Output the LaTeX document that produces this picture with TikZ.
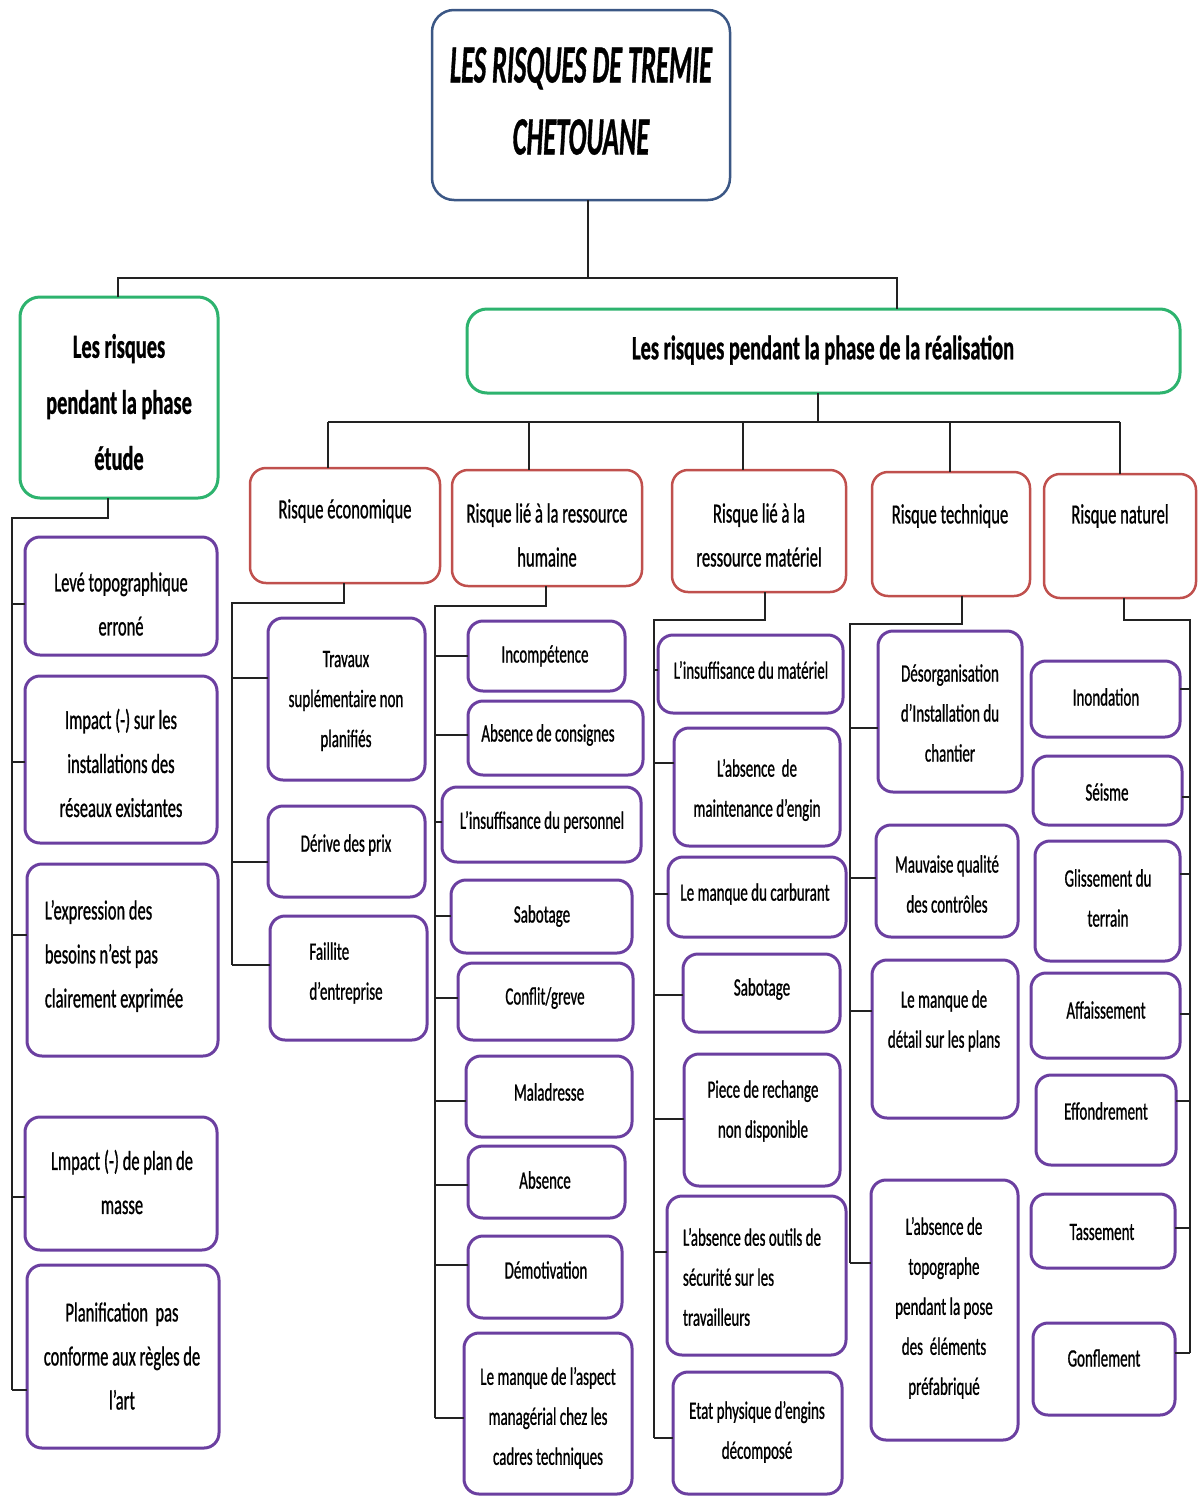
\documentclass[tikz,border=0pt]{standalone}
\usepackage{fontspec}
\setmainfont{Carlito}[FakeStretch=0.6,FakeBold=0.8]
\newfontfamily\titlef{Carlito}[FakeStretch=0.49,FakeBold=0.6]
\definecolor{cTitle}{HTML}{3B5785}
\definecolor{cGreen}{HTML}{2DB36E}
\definecolor{cRed}{HTML}{C0504D}
\definecolor{cPurp}{HTML}{6B3FA0}
\definecolor{cLine}{HTML}{222222}
\newcommand\fs[2]{\fontsize{#1}{#2}\selectfont}
\newcommand\bx[6]{\node[#2, minimum width={(#5)-(#3)}, minimum height={(#6)-(#4)}] (#1) at ({((#3)+(#5))/2},{((#4)+(#6))/2}) {};}
\newcommand\tx[5]{\node[lbl, #4] (#1) at (#2,#3) {#5};}
\newcommand\tk[3]{\draw[conn] (#1.west |- 0,#2) -- (#3 |- 0,#2);}
\newcommand\tke[3]{\draw[conn] (#1.east |- 0,#2) -- (#3 |- 0,#2);}
\tikzset{
 base/.style={draw, fill=white, inner sep=0pt, outer sep=0pt, line width=2.5pt},
 titlebox/.style={base, draw=cTitle, rounded corners=22pt},
 greenbox/.style={base, draw=cGreen, rounded corners=20pt, line width=3pt},
 redbox/.style={base, draw=cRed, rounded corners=16pt},
 purpbox/.style={base, draw=cPurp, rounded corners=15pt, line width=3pt},
 lbl/.style={align=center, inner sep=0pt, text=black},
 conn/.style={draw=cLine, line width=2pt},
 ftitle/.style={font=\titlef\bfseries\itshape\fs{54}{72}},
 fgreen/.style={font=\bfseries\fs{34}{56}},
 fred/.style={font=\fs{27.7}{44}},
 fstudy/.style={font=\fs{27.5}{44}},
 fch/.style={font=\fs{25}{40}},
}
\begin{document}
\begin{tikzpicture}[x=1pt,y=-1pt]
\fill[white] (0,0) rectangle (1198,1497);
\useasboundingbox (0,0) rectangle (1198,1497);

% ---- level 0/1
\bx{title}{titlebox}{432}{10}{730}{200}
\tx{ttitle}{581}{101}{ftitle}{LES RISQUES DE TREMIE\\CHETOUANE}
\bx{study}{greenbox}{20}{297}{218}{498}
\tx{tstudy}{119}{402}{fgreen}{Les risques\\pendant la phase\\étude}
\bx{real}{greenbox}{467}{309}{1180}{393}
\tx{treal}{823}{350}{fgreen}{Les risques pendant la phase de la réalisation}

% ---- red boxes
\bx{eco}{redbox}{250}{468}{440}{583}
\tx{teco}{345}{511}{fred}{Risque économique}
\bx{hum}{redbox}{452}{470}{642}{586}
\tx{thum}{547}{535}{fred}{Risque lié à la ressource\\humaine}
\bx{mat}{redbox}{672}{470}{846}{592}
\tx{tmat}{759}{535}{fred}{Risque lié à la\\ressource matériel}
\bx{tec}{redbox}{872}{472}{1030}{596}
\tx{ttec}{950}{516}{fred}{Risque technique}
\bx{nat}{redbox}{1044}{474}{1196}{598}
\tx{tnat}{1120}{516}{fred}{Risque naturel}

% ---- study children
\bx{bs1}{purpbox}{25}{537}{217}{655}
\tx{ts1}{121}{604}{fstudy}{Levé topographique\\erroné}
\bx{bs2}{purpbox}{25}{676}{217}{843}
\tx{ts2}{121}{763}{fstudy}{Impact (-) sur les\\installations des\\réseaux existantes}
\bx{bs3}{purpbox}{27}{864}{218}{1056}
\tx{ts3}{114}{956}{fstudy,align=left}{L’expression des\\besoins n’est pas\\clairement exprimée}
\bx{bs4}{purpbox}{25}{1117}{217}{1250}
\tx{ts4}{122}{1182}{fstudy}{Lmpact (-) de plan de\\masse}
\bx{bs5}{purpbox}{27}{1265}{219}{1448}
\tx{ts5}{122}{1356}{fstudy}{Planification\ \ pas\\conforme aux règles de\\l’art}

% ---- economique children
\bx{be1}{purpbox}{268}{618}{425}{780}
\tx{te1}{346}{701}{fch}{Travaux\\suplémentaire non\\planifiés}
\bx{be2}{purpbox}{268}{806}{425}{897}
\tx{te2}{346}{845}{fch}{Dérive des prix}
\bx{be3}{purpbox}{270}{916}{427}{1040}
\tx{te3}{346}{973}{fch,align=left}{Faillite\\d’entreprise}

% ---- humaine children
\bx{bh1}{purpbox}{468}{621}{625}{691}
\tx{th1}{545}{656}{fch}{Incompétence}
\bx{bh2}{purpbox}{468}{701}{643}{775}
\tx{th2}{548}{735}{fch}{Absence de consignes}
\bx{bh3}{purpbox}{442}{787}{641}{862}
\tx{th3}{542}{822}{fch}{L’insuffisance du personnel}
\bx{bh4}{purpbox}{451}{880}{632}{953}
\tx{th4}{542}{916}{fch}{Sabotage}
\bx{bh5}{purpbox}{458}{963}{633}{1040}
\tx{th5}{545}{998}{fch}{Conflit/greve}
\bx{bh6}{purpbox}{466}{1056}{632}{1137}
\tx{th6}{549}{1092}{fch}{Maladresse}
\bx{bh7}{purpbox}{468}{1146}{625}{1218}
\tx{th7}{545}{1180}{fch}{Absence}
\bx{bh8}{purpbox}{468}{1236}{622}{1318}
\tx{th8}{546}{1270}{fch}{Démotivation}
\bx{bh9}{purpbox}{464}{1333}{632}{1494}
\tx{th9}{548}{1418}{fch}{Le manque de l’aspect\\managérial chez les\\cadres techniques}

% ---- materiel children
\bx{bm1}{purpbox}{658}{635}{843}{713}
\tx{tm1}{751}{670}{fch}{L’insuffisance du matériel}
\bx{bm2}{purpbox}{674}{728}{840}{846}
\tx{tm2}{757}{790}{fch}{L’absence\ \ de\\maintenance d’engin}
\bx{bm3}{purpbox}{668}{857}{846}{937}
\tx{tm3}{755}{894}{fch}{Le manque du carburant}
\bx{bm4}{purpbox}{683}{954}{840}{1032}
\tx{tm4}{762}{989}{fch}{Sabotage}
\bx{bm5}{purpbox}{684}{1054}{840}{1186}
\tx{tm5}{763}{1111}{fch}{Piece de rechange\\non disponible}
\bx{bm6}{purpbox}{667}{1196}{846}{1355}
\tx{tm6}{752}{1277}{fch,align=left}{L’absence des outils de\\sécurité sur les\\travailleurs}
\bx{bm7}{purpbox}{673}{1372}{842}{1494}
\tx{tm7}{757}{1432}{fch}{Etat physique d’engins\\décomposé}

% ---- technique children
\bx{bt1}{purpbox}{878}{631}{1022}{792}
\tx{tt1}{950}{713}{fch}{Désorganisation\\d’Installation du\\chantier}
\bx{bt2}{purpbox}{876}{825}{1018}{937}
\tx{tt2}{947}{884}{fch}{Mauvaise qualité\\des contrôles}
\bx{bt3}{purpbox}{872}{960}{1018}{1118}
\tx{tt3}{944}{1021}{fch}{Le manque de\\détail sur les plans}
\bx{bt4}{purpbox}{871}{1180}{1018}{1440}
\tx{tt4}{944}{1308}{fch}{L’absence de\\topographe\\pendant la pose\\des\ \ éléments\\préfabriqué}

% ---- naturel children
\bx{bn1}{purpbox}{1031}{661}{1180}{737}
\tx{tn1}{1106}{697}{fch}{Inondation}
\bx{bn2}{purpbox}{1033}{756}{1182}{825}
\tx{tn2}{1107}{792}{fch}{Séisme}
\bx{bn3}{purpbox}{1035}{841}{1180}{961}
\tx{tn3}{1108}{898}{fch}{Glissement du\\terrain}
\bx{bn4}{purpbox}{1031}{973}{1180}{1058}
\tx{tn4}{1106}{1010}{fch}{Affaissement}
\bx{bn5}{purpbox}{1036}{1075}{1176}{1165}
\tx{tn5}{1106}{1111}{fch}{Effondrement}
\bx{bn6}{purpbox}{1031}{1194}{1175}{1268}
\tx{tn6}{1102}{1232}{fch}{Tassement}
\bx{bn7}{purpbox}{1033}{1323}{1175}{1415}
\tx{tn7}{1104}{1358}{fch}{Gonflement}

% ---- connectors: top levels
\coordinate (hT) at (588,278);
\coordinate (hL) at (118,278);
\coordinate (hR) at (897,278);
\draw[conn] (title.south -| hT) -- (hT) -- (hL) -- (study.north -| hL);
\draw[conn] (hT) -- (hR) -- (real.north -| hR);
\coordinate (rb) at (818,422);
\coordinate (d1) at (328,422);
\coordinate (d2) at (529,422);
\coordinate (d3) at (743,422);
\coordinate (d4) at (950,422);
\coordinate (d5) at (1120,422);
\draw[conn] (real.south -| rb) -- (rb);
\draw[conn] (d1) -- (d5);
\draw[conn] (d1) -- (eco.north -| d1);
\draw[conn] (d2) -- (hum.north -| d2);
\draw[conn] (d3) -- (mat.north -| d3);
\draw[conn] (d4) -- (tec.north -| d4);
\draw[conn] (d5) -- (nat.north -| d5);

% ---- study bus
\coordinate (sA) at (108,518);
\coordinate (sB) at (12,518);
\coordinate (sC) at (12,1390);
\draw[conn] (study.south -| sA) -- (sA) -- (sB) -- (sC);
\tk{bs1}{604}{sB}
\tk{bs2}{762}{sB}
\tk{bs3}{935}{sB}
\tk{bs4}{1197}{sB}
\tk{bs5}{1390}{sB}

% ---- economique bus
\coordinate (eA) at (344,603);
\coordinate (eB) at (232,603);
\coordinate (eC) at (232,965);
\draw[conn] (eco.south -| eA) -- (eA) -- (eB) -- (eC);
\tk{be1}{678}{eB}
\tk{be2}{862}{eB}
\tk{be3}{965}{eB}

% ---- humaine bus
\coordinate (hA) at (546,606);
\coordinate (hB) at (435,606);
\coordinate (hC) at (435,1418);
\draw[conn] (hum.south -| hA) -- (hA) -- (hB) -- (hC);
\tk{bh1}{656}{hB}
\tk{bh2}{735}{hB}
\tk{bh3}{822}{hB}
\tk{bh4}{916}{hB}
\tk{bh5}{998}{hB}
\tk{bh6}{1101}{hB}
\tk{bh7}{1185}{hB}
\tk{bh8}{1265}{hB}
\tk{bh9}{1418}{hB}

% ---- materiel bus
\coordinate (mA) at (765,620);
\coordinate (mB) at (654,620);
\coordinate (mC) at (654,1438);
\draw[conn] (mat.south -| mA) -- (mA) -- (mB) -- (mC);
\tk{bm1}{670}{mB}
\tk{bm2}{763}{mB}
\tk{bm3}{894}{mB}
\tk{bm4}{995}{mB}
\tk{bm5}{1119}{mB}
\tk{bm6}{1252}{mB}
\tk{bm7}{1438}{mB}

% ---- technique bus
\coordinate (tA) at (962,624);
\coordinate (tB) at (850,624);
\coordinate (tC) at (850,1263);
\draw[conn] (tec.south -| tA) -- (tA) -- (tB) -- (tC);
\tk{bt1}{728}{tB}
\tk{bt2}{878}{tB}
\tk{bt3}{1011}{tB}
\tk{bt4}{1263}{tB}

% ---- naturel bus
\coordinate (nA) at (1124,620);
\coordinate (nB) at (1190,620);
\coordinate (nC) at (1190,1353);
\draw[conn] (nat.south -| nA) -- (nA) -- (nB) -- (nC);
\tke{bn1}{689}{nB}
\tke{bn2}{797}{nB}
\tke{bn3}{874}{nB}
\tke{bn4}{1014}{nB}
\tke{bn5}{1101}{nB}
\tke{bn6}{1228}{nB}
\tke{bn7}{1353}{nB}
\end{tikzpicture}
\end{document}
